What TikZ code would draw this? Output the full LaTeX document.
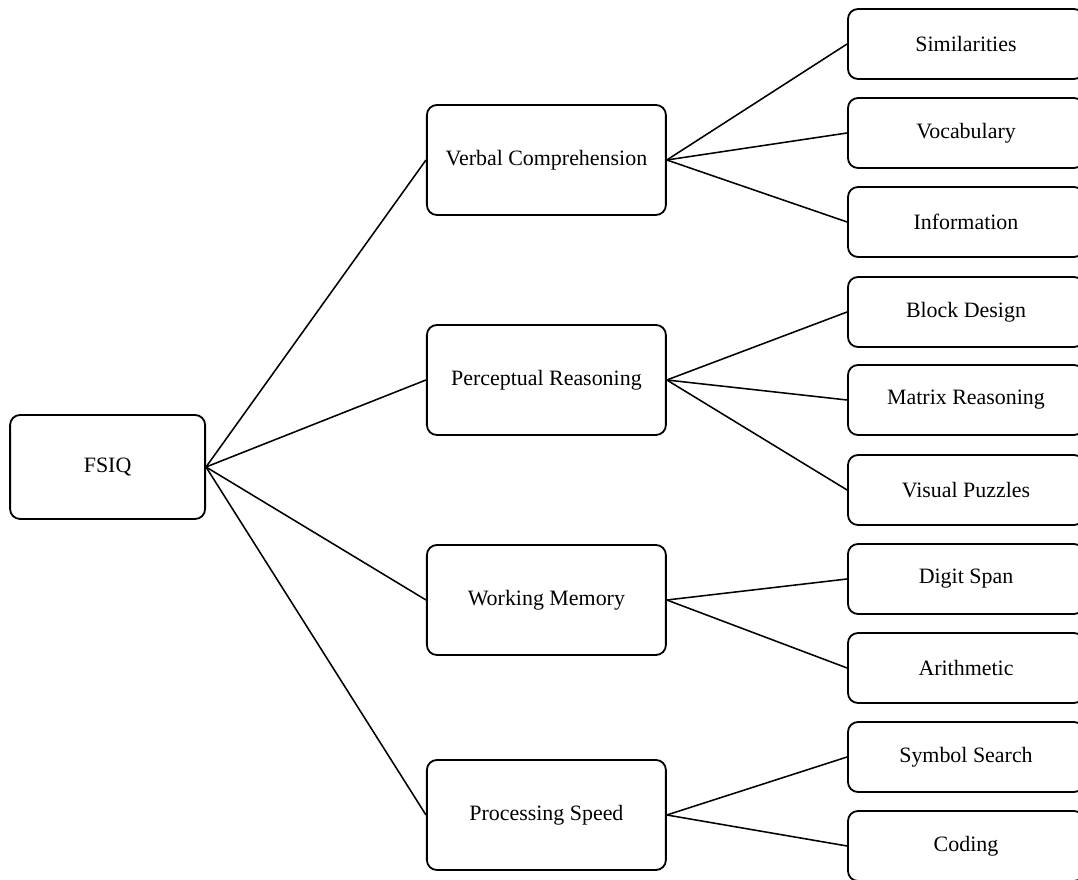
\documentclass[tikz,border=0pt]{standalone}
\usepackage{fontspec}
\setmainfont{Liberation Serif}
\tikzset{
  topbox/.style={draw, line width=1.3pt, rounded corners=0.25cm, minimum width=4.875cm, minimum height=2.6cm, font=\fontsize{15.6}{18}\selectfont},
  midbox/.style={draw, line width=1.3pt, rounded corners=0.25cm, minimum width=5.975cm, minimum height=2.75cm, font=\fontsize{15.6}{18}\selectfont},
  leafbox/.style={draw, line width=1.3pt, rounded corners=0.25cm, minimum width=5.9cm, minimum height=1.75cm, font=\fontsize{15.6}{18}\selectfont},
  link/.style={line width=1.1pt}
}
\begin{document}
\begin{tikzpicture}
\useasboundingbox (0,0) rectangle (26.95,22);
\node[topbox] (fsiq) at (2.69,10.325) {FSIQ};
\node[midbox] (verbal) at (13.66,18.0) {Verbal Comprehension};
\node[midbox] (percept) at (13.66,12.5) {Perceptual Reasoning};
\node[midbox] (memory) at (13.66,7.0) {Working Memory};
\node[midbox] (speed) at (13.66,1.625) {Processing Speed};
\node[leafbox] (simil) at (24.15,20.9) {Similarities};
\node[leafbox] (vocab) at (24.15,18.675) {Vocabulary};
\node[leafbox] (inform) at (24.15,16.45) {Information};
\node[leafbox] (block) at (24.15,14.2) {Block Design};
\node[leafbox] (matrix) at (24.15,12.0) {Matrix Reasoning};
\node[leafbox] (puzzle) at (24.15,9.75) {Visual Puzzles};
\node[leafbox] (digit) at (24.15,7.525) {Digit Span};
\node[leafbox] (arith) at (24.15,5.3) {Arithmetic};
\node[leafbox] (symbol) at (24.15,3.075) {Symbol Search};
\node[leafbox] (coding) at (24.15,0.85) {Coding};
\draw[link] (fsiq.east) -- (verbal.west);
\draw[link] (fsiq.east) -- (percept.west);
\draw[link] (fsiq.east) -- (memory.west);
\draw[link] (fsiq.east) -- (speed.west);
\draw[link] (verbal.east) -- (simil.west);
\draw[link] (verbal.east) -- (vocab.west);
\draw[link] (verbal.east) -- (inform.west);
\draw[link] (percept.east) -- (block.west);
\draw[link] (percept.east) -- (matrix.west);
\draw[link] (percept.east) -- (puzzle.west);
\draw[link] (memory.east) -- (digit.west);
\draw[link] (memory.east) -- (arith.west);
\draw[link] (speed.east) -- (symbol.west);
\draw[link] (speed.east) -- (coding.west);
\end{tikzpicture}
\end{document}
